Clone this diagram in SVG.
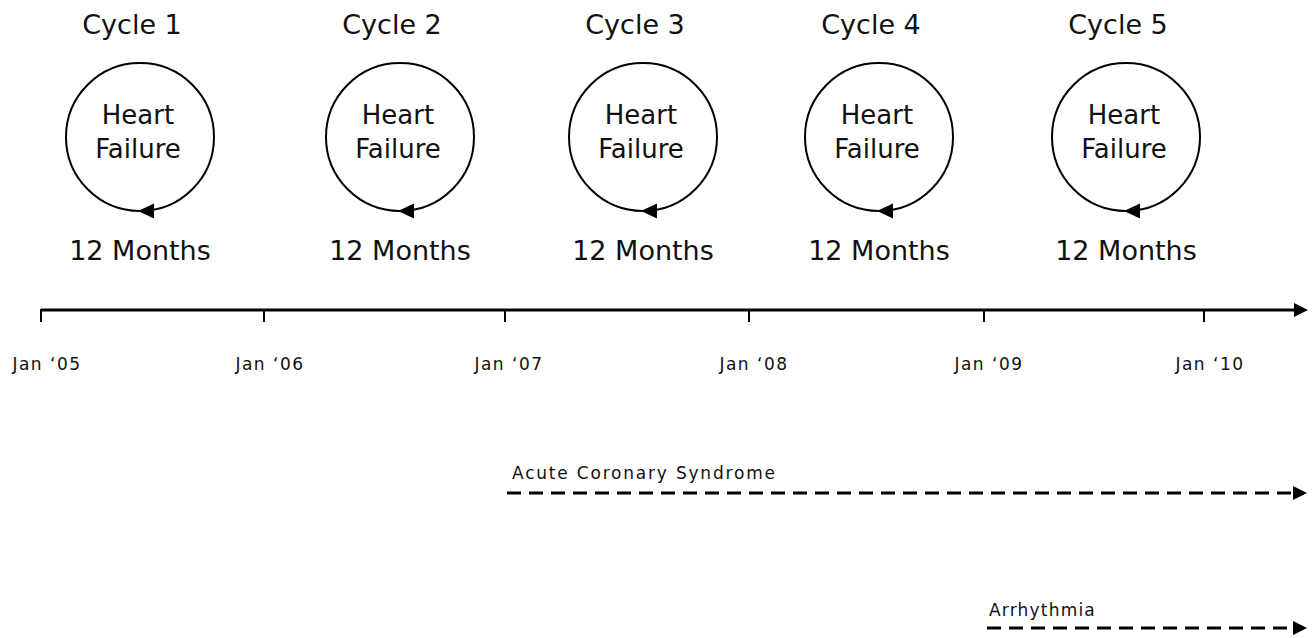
<svg xmlns="http://www.w3.org/2000/svg" width="1314" height="638" viewBox="0 0 1314 638">
<style>
.big{font-family:"DejaVu Sans","Liberation Sans",sans-serif;font-size:27px;fill:#111;text-anchor:middle}
.mid{font-family:"DejaVu Sans","Liberation Sans",sans-serif;font-size:26px;fill:#111;text-anchor:middle}
.small{font-family:"DejaVu Sans","Liberation Sans",sans-serif;font-size:17px;fill:#111;text-anchor:middle;letter-spacing:1.5px}
.lbl{font-family:"DejaVu Sans","Liberation Sans",sans-serif;font-size:17px;fill:#111;letter-spacing:1.8px}
.ring{fill:#fff;stroke:#000;stroke-width:2}
.axis{stroke:#000;stroke-width:3;fill:none}
.tick{stroke:#000;stroke-width:2}
.dash{stroke:#000;stroke-width:3;stroke-dasharray:14 8;fill:none}
</style>
<defs>
<path id="cycArrow" d="M-2,0 L14,-7.5 L14,7.5 Z" fill="#000"/>
<path id="head" d="M0,0 L-14,-7 L-14,7 Z" fill="#000"/>
</defs>
<g id="cycle1">
<text class="big" x="132" y="34">Cycle 1</text>
<circle class="ring" cx="140" cy="137" r="74"/>
<use href="#cycArrow" x="140" y="211"/>
<text class="mid" x="138" y="124">Heart</text>
<text class="mid" x="138" y="158">Failure</text>
<text class="big" x="140" y="260">12 Months</text>
</g>
<g id="cycle2">
<text class="big" x="392" y="34">Cycle 2</text>
<circle class="ring" cx="400" cy="137" r="74"/>
<use href="#cycArrow" x="400" y="211"/>
<text class="mid" x="398" y="124">Heart</text>
<text class="mid" x="398" y="158">Failure</text>
<text class="big" x="400" y="260">12 Months</text>
</g>
<g id="cycle3">
<text class="big" x="635" y="34">Cycle 3</text>
<circle class="ring" cx="643" cy="137" r="74"/>
<use href="#cycArrow" x="643" y="211"/>
<text class="mid" x="641" y="124">Heart</text>
<text class="mid" x="641" y="158">Failure</text>
<text class="big" x="643" y="260">12 Months</text>
</g>
<g id="cycle4">
<text class="big" x="871" y="34">Cycle 4</text>
<circle class="ring" cx="879" cy="137" r="74"/>
<use href="#cycArrow" x="879" y="211"/>
<text class="mid" x="877" y="124">Heart</text>
<text class="mid" x="877" y="158">Failure</text>
<text class="big" x="879" y="260">12 Months</text>
</g>
<g id="cycle5">
<text class="big" x="1118" y="34">Cycle 5</text>
<circle class="ring" cx="1126" cy="137" r="74"/>
<use href="#cycArrow" x="1126" y="211"/>
<text class="mid" x="1124" y="124">Heart</text>
<text class="mid" x="1124" y="158">Failure</text>
<text class="big" x="1126" y="260">12 Months</text>
</g>
<g id="timeline">
<line class="axis" x1="41" y1="310" x2="1296" y2="310"/>
<use href="#head" x="1308" y="310"/>
<line class="tick" x1="41" y1="309" x2="41" y2="322"/>
<line class="tick" x1="264" y1="310" x2="264" y2="322"/>
<line class="tick" x1="505" y1="310" x2="505" y2="322"/>
<line class="tick" x1="749" y1="310" x2="749" y2="322"/>
<line class="tick" x1="984" y1="310" x2="984" y2="322"/>
<line class="tick" x1="1204" y1="310" x2="1204" y2="322"/>
<text class="small" x="47" y="370">Jan ‘05</text>
<text class="small" x="270" y="370">Jan ‘06</text>
<text class="small" x="509" y="370">Jan ‘07</text>
<text class="small" x="754" y="370">Jan ‘08</text>
<text class="small" x="989" y="370">Jan ‘09</text>
<text class="small" x="1210" y="370">Jan ‘10</text>
</g>
<g id="acs">
<text class="lbl" x="512" y="479">Acute Coronary Syndrome</text>
</g>
<g id="arrhythmia">
<text class="lbl" x="989" y="616" style="letter-spacing:1.2px">Arrhythmia</text>
</g>
<g id="connectors">
<line class="dash" x1="507" y1="493" x2="1295" y2="493"/>
<use href="#head" x="1307" y="493"/>
<line class="dash" x1="987" y1="628" x2="1295" y2="628"/>
<use href="#head" x="1307" y="628"/>
</g>
</svg>
